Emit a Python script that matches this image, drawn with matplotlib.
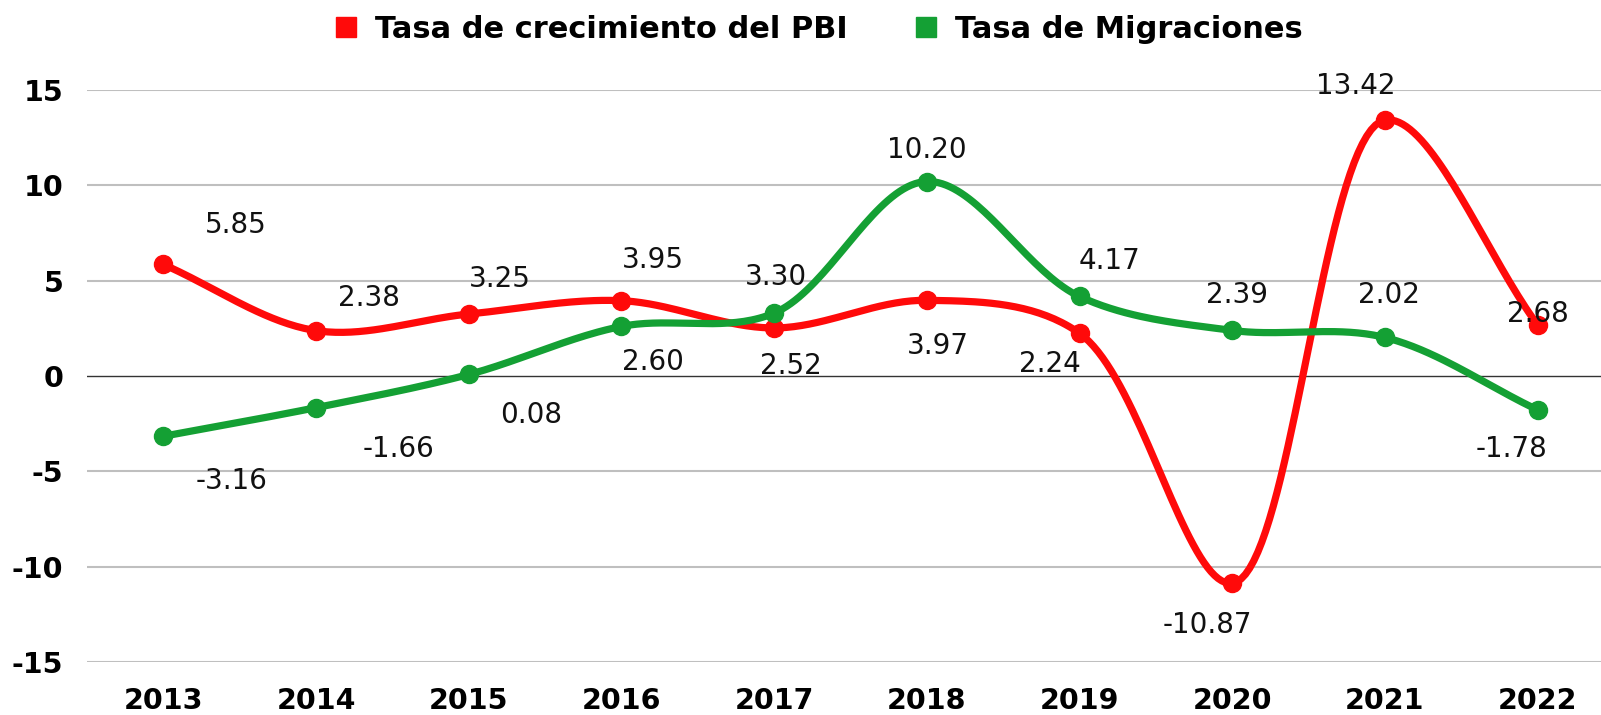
import numpy as np
import matplotlib
matplotlib.use("Agg")
import matplotlib.pyplot as plt
from matplotlib.lines import Line2D

years = ["2013", "2014", "2015", "2016", "2017", "2018", "2019", "2020", "2021", "2022"]
pbi = [5.85, 2.38, 3.25, 3.95, 2.52, 3.97, 2.24, -10.87, 13.42, 2.68]
migra = [-3.16, -1.66, 0.08, 2.60, 3.30, 10.20, 4.17, 2.39, 2.02, -1.78]

# label offsets in pixels (dx, dy) from each point
pbi_off = [(72, 39), (53, 33), (31, 35), (31, 41), (17, -38), (11, -46), (-30, -31), (-25, -42), (-29, 34), (0, 11)]
mig_off = [(68, -45), (82, -41), (62, -41), (31, -36), (2, 36), (0, 32), (30, 35), (5, 35), (4, 42), (-26, -39)]

RED = "#ff0a0a"
GREEN = "#14a034"

AX_W, AX_H = 1527, 572   # axes size in pixels
XSPAN, YSPAN = 10, 30


def smooth(y, n=40):
    # centripetal catmull-rom, worked out in screen pixels
    kx, ky = AX_W / XSPAN, AX_H / YSPAN
    P = np.column_stack([np.arange(len(y)) * kx, np.asarray(y, float) * ky])
    P = np.vstack([2 * P[0] - P[1], P, 2 * P[-1] - P[-2]])
    dt = np.sqrt(np.linalg.norm(np.diff(P, axis=0), axis=1))
    v = np.zeros_like(P)
    for k in range(1, len(P) - 1):
        v[k] = (P[k] - P[k - 1]) / dt[k - 1] - (P[k + 1] - P[k - 1]) / (dt[k - 1] + dt[k]) \
            + (P[k + 1] - P[k]) / dt[k]
    u = np.linspace(0, 1, n)[:, None]
    h00 = 2 * u ** 3 - 3 * u ** 2 + 1
    h10 = u ** 3 - 2 * u ** 2 + u
    h01 = -2 * u ** 3 + 3 * u ** 2
    h11 = u ** 3 - u ** 2
    pts = []
    for k in range(1, len(P) - 2):
        seg = h00 * P[k] + h10 * v[k] * dt[k] + h01 * P[k + 1] + h11 * v[k + 1] * dt[k]
        pts.append(seg)
    pts = np.vstack(pts)
    return pts[:, 0] / kx, pts[:, 1] / ky


fig = plt.figure(figsize=(16.01, 7.15), dpi=100)
ax = fig.add_axes([87 / 1601, 1 - 662 / 715, AX_W / 1601, AX_H / 715])

ax.set_xlim(-0.5, 9.5)
ax.set_ylim(-15, 15)
ax.set_yticks([-15, -10, -5, 0, 5, 10, 15])
ax.set_yticklabels(["-15", "-10", "-5", "0", "5", "10", "15"])
ax.set_xticks(range(len(years)))
ax.set_xticklabels(years)
for v in [-15, -10, -5, 5, 10, 15]:
    ax.axhline(v, color="#bfbfbf", lw=1.5, zorder=0)
ax.axhline(0, color="#333333", lw=1.0, zorder=0)
for s in ax.spines.values():
    s.set_visible(False)
ax.tick_params(length=0, labelsize=20.5)
ax.tick_params(axis="y", pad=17)
ax.tick_params(axis="x", pad=18)
for lab in ax.get_xticklabels() + ax.get_yticklabels():
    lab.set_fontweight("bold")

for vals, offs, col in [(pbi, pbi_off, RED), (migra, mig_off, GREEN)]:
    sx, sy = smooth(vals)
    ax.plot(sx, sy, color=col, lw=5.2, solid_capstyle="round", zorder=3)
    ax.plot(range(len(vals)), vals, "o", color=col, ms=13, zorder=4)
    for i, v in enumerate(vals):
        ax.annotate(f"{v:.2f}", (i, v), xytext=offs[i], textcoords="offset pixels",
                    ha="center", va="center", fontsize=20, color="#111111", zorder=5)

handles = [Line2D([], [], marker="s", ls="", color=RED, ms=14),
           Line2D([], [], marker="s", ls="", color=GREEN, ms=14)]
fig.legend(handles, ["Tasa de crecimiento del PBI", "Tasa de Migraciones"],
           loc="center", bbox_to_anchor=(0.5 + 16 / 1601, 1 - 29 / 715), ncol=2, frameon=False,
           prop={"weight": "bold", "size": 22}, handletextpad=0.45, columnspacing=2.05,
           handlelength=1.0)

fig.savefig("out.png", dpi=100)
